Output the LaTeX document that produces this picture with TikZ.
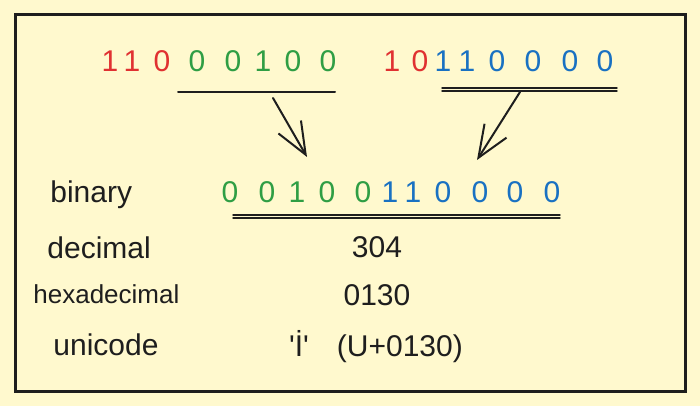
\documentclass[tikz,border=0pt]{standalone}
\usepackage{fontspec}
\setmainfont{Liberation Sans}
\usepackage{xcolor}
\usepackage{tikz}
\usetikzlibrary{arrows.meta}

\definecolor{paper}{RGB}{255,249,206}
\definecolor{ink}{RGB}{30,30,30}
\definecolor{bitred}{RGB}{224,49,49}
\definecolor{bitgreen}{RGB}{47,158,68}
\definecolor{bitblue}{RGB}{25,113,194}

\begin{document}
\begin{tikzpicture}[x=0.5pt,y=-0.5pt,
  bit/.style={inner sep=0pt,anchor=base,font=\fontsize{15}{18}\selectfont},
  lbl/.style={inner sep=0pt,anchor=base west,text=ink,font=\fontsize{15}{18}\selectfont},
  val/.style={inner sep=0pt,anchor=base,text=ink,font=\fontsize{15}{18}\selectfont},
  bar/.style={ink,line width=0.7pt,line cap=round},
  flow/.style={ink,line width=1pt,line cap=round,-{Straight Barb[length=16pt,width=13pt,line width=1pt]}}]
  \fill[paper] (0,0) rectangle (700,406);
  \draw[ink,line width=1.5pt] (15,15) rectangle (685,391);
  % first byte
  \node[bit,bitred] (a1) at (110,72) {1};
  \node[bit,bitred] (a2) at (132,72) {1};
  \node[bit,bitred] (a3) at (162,72) {0};
  \node[bit,bitgreen] (a4) at (197,72) {0};
  \node[bit,bitgreen] (a5) at (233,72) {0};
  \node[bit,bitgreen] (a6) at (263,72) {1};
  \node[bit,bitgreen] (a7) at (293,72) {0};
  \node[bit,bitgreen] (a8) at (328,72) {0};
  % second byte
  \node[bit,bitred] (b1) at (392,72) {1};
  \node[bit,bitred] (b2) at (420,72) {0};
  \node[bit,bitblue] (b3) at (443,72) {1};
  \node[bit,bitblue] (b4) at (467,72) {1};
  \node[bit,bitblue] (b5) at (497,72) {0};
  \node[bit,bitblue] (b6) at (533,72) {0};
  \node[bit,bitblue] (b7) at (570,72) {0};
  \node[bit,bitblue] (b8) at (605,72) {0};
  \draw[ink,line width=1pt,line cap=round] (178,92) -- (335,92);
  \draw[bar] (442,88) -- (617,88);
  \draw[bar] (442,91) -- (617,91);
  % payload bits
  \node[bit,bitgreen] (c1) at (230,202) {0};
  \node[bit,bitgreen] (c2) at (267,202) {0};
  \node[bit,bitgreen] (c3) at (297,202) {1};
  \node[bit,bitgreen] (c4) at (327,202) {0};
  \node[bit,bitgreen] (c5) at (363,202) {0};
  \node[bit,bitblue] (c6) at (390,202) {1};
  \node[bit,bitblue] (c7) at (413,202) {1};
  \node[bit,bitblue] (c8) at (443,202) {0};
  \node[bit,bitblue] (c9) at (480,202) {0};
  \node[bit,bitblue] (c10) at (515,202) {0};
  \node[bit,bitblue] (c11) at (552,202) {0};
  \draw[bar] (233,215) -- (560,215);
  \draw[bar] (233,218) -- (560,218);
  \coordinate (lsrc) at (273,98);
  \coordinate (ltip) at (307,157);
  \coordinate (rsrc) at (520,92);
  \coordinate (rtip) at (477,160);
  \draw[flow] (lsrc) -- (ltip);
  \draw[flow] (rsrc) -- (rtip);
  % rows
  \node[lbl] (bin) at (50,203) {binary};
  \node[lbl] (dec) at (47,258) {decimal};
  \node[lbl,font=\fontsize{13}{16}\selectfont] (hex) at (33,303) {hexadecimal};
  \node[lbl] (uni) at (53,355) {unicode};
  \node[val] (decval) at (377,257) {304};
  \node[val] (hexval) at (377,305) {0130};
  \node[val] (unival) at (376,356) {\textquotesingle İ\textquotesingle\hspace{14pt}(U+0130)};
\end{tikzpicture}
\end{document}
